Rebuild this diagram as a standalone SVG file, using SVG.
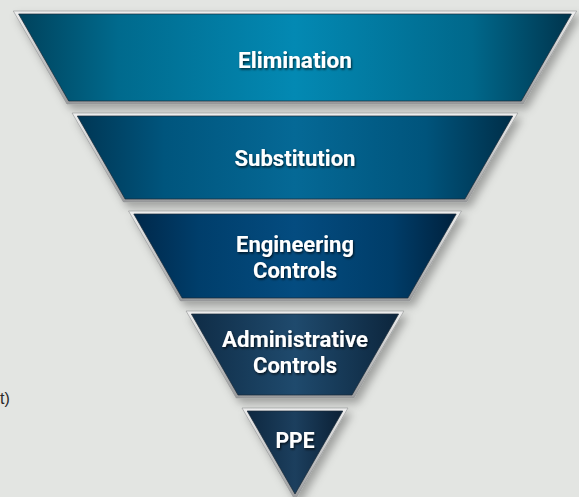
<svg xmlns="http://www.w3.org/2000/svg" width="579" height="497" viewBox="0 0 579 497">
<style>
.lbl{font-family:Roboto,"Liberation Sans",sans-serif;font-weight:bold;font-size:22px;fill:#ffffff;text-anchor:middle;filter:url(#ts)}
.rim{fill:url(#silver);stroke:#8e9092;stroke-width:0.6;filter:url(#ds)}
.face{stroke:#1a2a36;stroke-width:0.7}
.side{font-family:"Liberation Sans",Arial,sans-serif;font-size:16px;fill:#2a2a2a}
</style>
<defs>
<linearGradient id="silver" x1="0" y1="0" x2="0" y2="1">
<stop offset="0" stop-color="#eeeeee"/><stop offset="0.5" stop-color="#c4c5c6"/><stop offset="1" stop-color="#9a9b9d"/>
</linearGradient>
<linearGradient id="g1" x1="0" y1="0" x2="1" y2="0">
<stop offset="0" stop-color="#00425c"/><stop offset="0.18" stop-color="#006a8d"/><stop offset="0.5" stop-color="#0389b3"/><stop offset="0.82" stop-color="#00688b"/><stop offset="1" stop-color="#00344d"/>
</linearGradient>
<linearGradient id="g2" x1="0" y1="0" x2="1" y2="0">
<stop offset="0" stop-color="#003654"/><stop offset="0.2" stop-color="#00557d"/><stop offset="0.5" stop-color="#056996"/><stop offset="0.8" stop-color="#00547c"/><stop offset="1" stop-color="#002e48"/>
</linearGradient>
<linearGradient id="g3" x1="0" y1="0" x2="1" y2="0">
<stop offset="0" stop-color="#00284a"/><stop offset="0.2" stop-color="#003e6b"/><stop offset="0.5" stop-color="#044c80"/><stop offset="0.8" stop-color="#003d69"/><stop offset="1" stop-color="#00213d"/>
</linearGradient>
<linearGradient id="g4" x1="0" y1="0" x2="1" y2="0">
<stop offset="0" stop-color="#0f2c46"/><stop offset="0.5" stop-color="#1f4a6d"/><stop offset="1" stop-color="#0c253c"/>
</linearGradient>
<linearGradient id="g5" x1="0" y1="0" x2="1" y2="0">
<stop offset="0" stop-color="#0e2840"/><stop offset="0.5" stop-color="#1c3f5e"/><stop offset="1" stop-color="#0b2035"/>
</linearGradient>
<filter id="ds" x="-10%" y="-10%" width="125%" height="130%">
<feDropShadow dx="4" dy="5" stdDeviation="4" flood-color="#000000" flood-opacity="0.3"/>
</filter>
<filter id="ts" x="-10%" y="-20%" width="120%" height="150%">
<feDropShadow dx="1" dy="1.5" stdDeviation="1" flood-color="#000000" flood-opacity="0.7"/>
</filter>
</defs>
<rect width="579" height="497" fill="#e3e5e2"/>
<text class="side" x="0" y="404">t)</text>
<g id="elimination">
<polygon class="rim" points="13.3,11 576.7,11 523.1,104 66.9,104"/>
<polygon class="face" fill="url(#g1)" points="18.6,14 571.4,14 521.3,101 68.7,101"/>
<text class="lbl" x="295" y="68" textLength="114" lengthAdjust="spacingAndGlyphs">Elimination</text>
</g>
<g id="substitution">
<polygon class="rim" points="72.1,113 517.9,113 466.6,202 123.4,202"/>
<polygon class="face" fill="url(#g2)" points="77.3,116 512.7,116 464.9,199 125.1,199"/>
<text class="lbl" x="295" y="166" textLength="121" lengthAdjust="spacingAndGlyphs">Substitution</text>
</g>
<g id="engineering">
<polygon class="rim" points="128.5,211 461.5,211 409.6,301 180.4,301"/>
<polygon class="face" fill="url(#g3)" points="133.8,214 456.2,214 407.9,298 182.1,298"/>
<text class="lbl" x="295" y="252" textLength="118" lengthAdjust="spacingAndGlyphs">Engineering</text>
<text class="lbl" x="295" y="278" textLength="84" lengthAdjust="spacingAndGlyphs">Controls</text>
</g>
<g id="administrative">
<polygon class="rim" points="186.1,311 403.9,311 353.8,398 236.2,398"/>
<polygon class="face" fill="url(#g4)" points="191.4,314 398.6,314 352,395 238,395"/>
<text class="lbl" x="295" y="347" textLength="146" lengthAdjust="spacingAndGlyphs">Administrative</text>
<text class="lbl" x="295" y="373" textLength="84" lengthAdjust="spacingAndGlyphs">Controls</text>
</g>
<g id="ppe">
<polygon class="rim" points="242,408 348,408 295,500"/>
<polygon class="face" fill="url(#g5)" points="247.2,411 342.8,411 295,494"/>
<text class="lbl" x="295" y="448" textLength="39" lengthAdjust="spacingAndGlyphs">PPE</text>
</g>
</svg>
